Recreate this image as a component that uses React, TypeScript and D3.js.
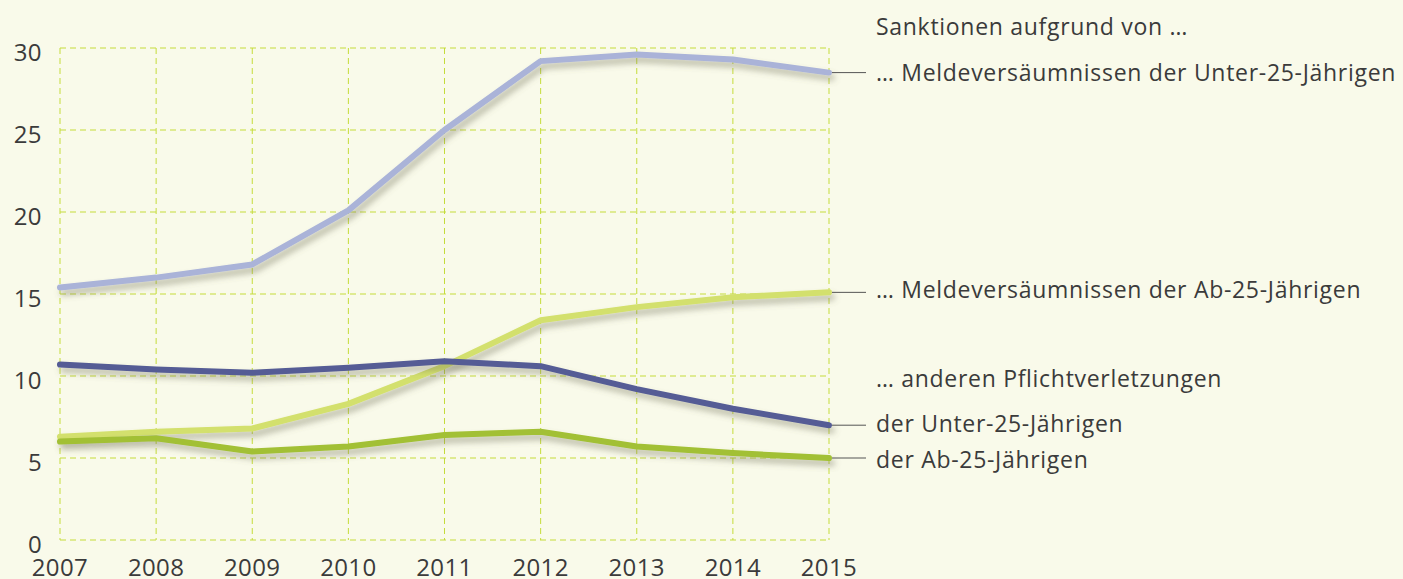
import { useEffect, useRef } from 'react';
import * as d3 from 'd3';

const years = [2007, 2008, 2009, 2010, 2011, 2012, 2013, 2014, 2015];
const yTicks = [0, 5, 10, 15, 20, 25, 30];

const meldeUnter25 = [15.4, 16.0, 16.8, 20.1, 25.0, 29.2, 29.6, 29.3, 28.5];
const meldeAb25 = [6.3, 6.6, 6.8, 8.3, 10.6, 13.4, 14.2, 14.8, 15.1];
const andereUnter25 = [10.7, 10.4, 10.2, 10.5, 10.9, 10.6, 9.2, 8.0, 7.0];
const andereAb25 = [6.0, 6.2, 5.4, 5.7, 6.4, 6.6, 5.7, 5.3, 5.0];

const seriesLabels = [
  '… Meldeversäumnissen der Unter-25-Jährigen',
  '… Meldeversäumnissen der Ab-25-Jährigen',
  'der Unter-25-Jährigen',
  'der Ab-25-Jährigen',
];
const headerLabel = 'Sanktionen aufgrund von …';
const subHeaderLabel = '… anderen Pflichtverletzungen';

export default function App() {
  const svgRef = useRef(null);

  useEffect(() => {
    document.body.style.margin = '0';
    const width = 1403;
    const height = 579;
    const svg = d3.select(svgRef.current);
    svg.selectAll('*').remove();
    svg.attr('width', width).attr('height', height);

    const x = d3.scaleLinear().domain([2007, 2015]).range([60, 829]);
    const y = d3.scaleLinear().domain([0, 30]).range([540, 48]);

    svg.append('rect').attr('width', width).attr('height', height).attr('fill', '#f9faea');

    const defs = svg.append('defs');
    const filter = defs
      .append('filter')
      .attr('id', 'shadow')
      .attr('x', '-10%')
      .attr('y', '-50%')
      .attr('width', '120%')
      .attr('height', '200%');
    filter
      .append('feDropShadow')
      .attr('dx', 3)
      .attr('dy', 5)
      .attr('stdDeviation', 3)
      .attr('flood-color', '#6b6b55')
      .attr('flood-opacity', 0.45);

    const font = '"Open Sans", "DejaVu Sans", sans-serif';
    const textColor = '#3b3b3b';

    // grid
    const grid = svg.append('g').attr('stroke', '#c5dc3a').attr('stroke-width', 1).attr('stroke-dasharray', '6,4');
    grid
      .selectAll('line.h')
      .data(yTicks)
      .enter()
      .append('line')
      .attr('x1', x(2007))
      .attr('x2', x(2015))
      .attr('y1', d => y(d))
      .attr('y2', d => y(d));
    grid
      .selectAll('line.v')
      .data(years)
      .enter()
      .append('line')
      .attr('x1', d => x(d))
      .attr('x2', d => x(d))
      .attr('y1', y(30))
      .attr('y2', y(0));

    // axis labels
    svg
      .append('g')
      .selectAll('text')
      .data(yTicks)
      .enter()
      .append('text')
      .attr('x', 42)
      .attr('y', d => y(d) + 4)
      .attr('dy', '0.36em')
      .attr('text-anchor', 'end')
      .style('font-family', font)
      .style('font-size', '24px')
      .style('letter-spacing', '0.4px')
      .attr('fill', textColor)
      .text(d => d);

    svg
      .append('g')
      .selectAll('text')
      .data(years)
      .enter()
      .append('text')
      .attr('x', d => x(d))
      .attr('y', 576)
      .attr('text-anchor', 'middle')
      .style('font-family', font)
      .style('font-size', '24px')
      .style('letter-spacing', '0.4px')
      .attr('fill', textColor)
      .text(d => d);

    const series = [
      { values: meldeUnter25, color: '#aab3d8', label: seriesLabels[0], labelY: 73 },
      { values: meldeAb25, color: '#d3e06d', label: seriesLabels[1], labelY: 290 },
      { values: andereUnter25, color: '#545c95', label: seriesLabels[2], labelY: 424 },
      { values: andereAb25, color: '#a2c034', label: seriesLabels[3], labelY: 460 },
    ];

    const line = d3
      .line()
      .x((_, i) => x(years[i]))
      .y(d => y(d));

    series.forEach(s => {
      svg
        .append('path')
        .attr('d', line(s.values))
        .attr('fill', 'none')
        .attr('stroke', s.color)
        .attr('stroke-width', 6)
        .attr('stroke-linecap', 'round')
        .attr('stroke-linejoin', 'round')
        .attr('filter', 'url(#shadow)');

      const endY = y(s.values[s.values.length - 1]);
      svg
        .append('line')
        .attr('x1', x(2015) + 3)
        .attr('x2', 866)
        .attr('y1', endY)
        .attr('y2', endY)
        .attr('stroke', '#555')
        .attr('stroke-width', 1);

      svg
        .append('text')
        .attr('x', 876)
        .attr('y', s.labelY)
        .attr('dy', '0.36em')
        .style('font-family', font)
        .style('font-size', '23px')
        .style('letter-spacing', '0.7px')
        .attr('fill', textColor)
        .text(s.label);
    });

    svg
      .append('text')
      .attr('x', 876)
      .attr('y', 27)
      .attr('dy', '0.36em')
      .style('font-family', font)
      .style('font-size', '23px')
      .style('letter-spacing', '0.7px')
      .attr('fill', textColor)
      .text(headerLabel);

    svg
      .append('text')
      .attr('x', 876)
      .attr('y', 379)
      .attr('dy', '0.36em')
      .style('font-family', font)
      .style('font-size', '23px')
      .style('letter-spacing', '0.7px')
      .attr('fill', textColor)
      .text(subHeaderLabel);
  }, []);

  return <svg ref={svgRef} style={{ display: 'block' }} />;
}
